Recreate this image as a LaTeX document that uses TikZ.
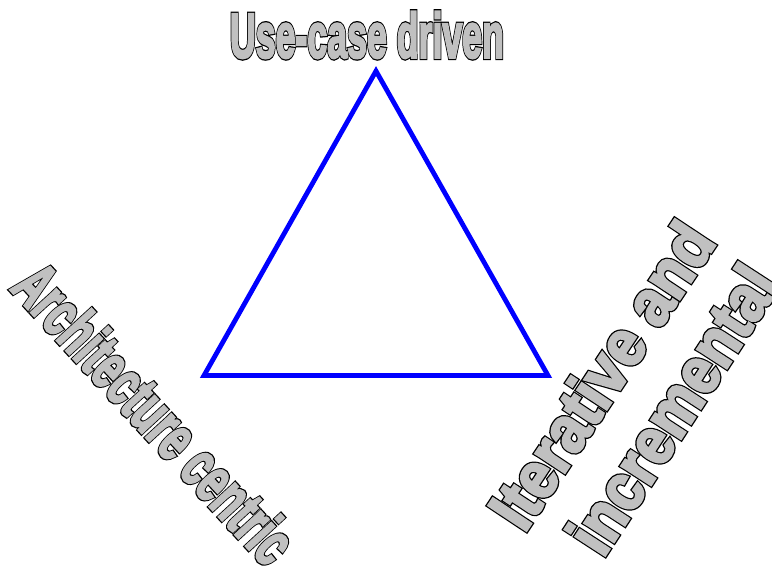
\documentclass[tikz,border=0pt]{standalone}
\usepackage{fontspec}
\setmainfont{Liberation Sans}
\usepackage{graphicx}
\definecolor{wagray}{RGB}{192,192,192}
\definecolor{triblue}{RGB}{0,0,255}
\newcommand{\walayers}[1]{\rlap{\special{pdf:literal direct 0 G 2 Tr 3.1 w}#1}\special{pdf:literal direct 0.753 G 2 Tr 1.5 w}#1\special{pdf:literal direct 0 G 0 Tr}}
\newcommand{\wordart}[3]{\resizebox{#1}{#2}{\fontsize{40}{48}\selectfont\bfseries\color{wagray}\walayers{#3}}}
\begin{document}
\begin{tikzpicture}[x=1pt,y=-1pt,
  tri/.style={draw=triblue,line width=4.8pt,line join=miter},
  label/.style={inner sep=0pt,outer sep=0pt}]
\useasboundingbox (0,0) rectangle (772,567);
\coordinate (top) at (376,71);
\coordinate (bl) at (204,375.5);
\coordinate (br) at (548,375.5);
\draw[tri] (top) -- (bl) -- (br) -- cycle;
\node[label] (uc) at (367,35) {\wordart{274pt}{46pt}{Use-case driven}};
\node[label,rotate=-47.4] (ac) at (155,413) {\wordart{380pt}{47pt}{Architecture centric}};
\node[label,rotate=56.5] (it) at (601,375) {\wordart{350pt}{48pt}{Iterative and}};
\node[label,rotate=57] (inc) at (672,409) {\wordart{327pt}{48pt}{incremental}};
\end{tikzpicture}
\end{document}
